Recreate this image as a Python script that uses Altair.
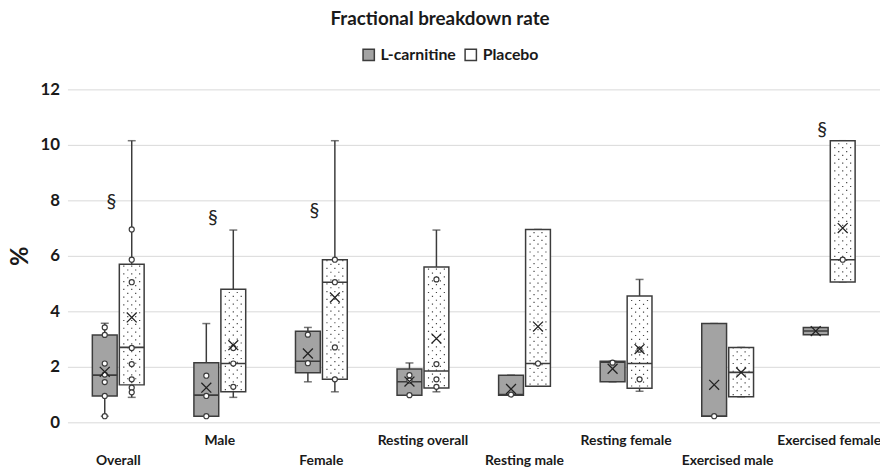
import altair as alt
import pandas as pd

categories = ["Overall", "Male", "Female", "Resting overall", "Resting male",
              "Resting female", "Exercised male", "Exercised female"]
series = ["L-carnitine", "Placebo"]

# L-carnitine box statistics
lc_min    = [0.22, 0.22, 1.46, 0.98, 0.98, 1.46, 0.22, 3.16]
lc_q1     = [0.95, 0.22, 1.79, 0.98, 0.98, 1.46, 0.22, 3.16]
lc_median = [1.70, 0.98, 2.20, 1.46, 1.00, 2.17, 0.22, 3.29]
lc_q3     = [3.15, 2.15, 3.28, 1.92, 1.70, 2.20, 3.56, 3.42]
lc_max    = [3.57, 3.56, 3.42, 2.14, 1.70, 2.20, 3.56, 3.42]
lc_mean   = [1.82, 1.25, 2.48, 1.47, 1.20, 1.93, 1.35, 3.29]

# Placebo box statistics
pl_min    = [0.90, 0.90, 1.10, 1.10, 1.30, 1.12, 0.92, 5.06]
pl_q1     = [1.35, 1.10, 1.55, 1.24, 1.30, 1.23, 0.92, 5.06]
pl_median = [2.70, 2.12, 5.05, 1.85, 2.12, 2.12, 1.80, 5.86]
pl_q3     = [5.70, 4.80, 5.86, 5.60, 6.95, 4.55, 2.70, 10.15]
pl_max    = [10.15, 6.93, 10.15, 6.93, 6.95, 5.15, 2.70, 10.15]
pl_mean   = [3.78, 2.78, 4.50, 3.02, 3.45, 2.64, 1.80, 7.00]

# inner data points
lc_points = [[3.42, 3.15, 2.12, 1.72, 1.45, 0.95, 0.22],
             [1.68, 0.95, 0.22],
             [3.16, 2.13],
             [1.70, 1.50, 0.98],
             [1.00],
             [2.15],
             [0.22],
             []]
pl_points = [[6.95, 5.86, 5.05, 2.68, 2.10, 1.55, 1.25, 1.08],
             [2.68, 2.12, 1.28],
             [5.86, 5.05, 2.70, 1.55],
             [5.15, 2.10, 1.55, 1.28],
             [2.12],
             [2.62, 1.55],
             [],
             [5.86]]

# significance markers
sig_cats = ["Overall", "Male", "Female", "Exercised female"]
sig_y = [7.95, 7.35, 7.6, 10.55]

FONT = "Lato"
DARK = "#3c3c3c"
TXT = "#1a1a1a"

rows = []
for s, mn, q1, md, q3, mx, me in [
        ("L-carnitine", lc_min, lc_q1, lc_median, lc_q3, lc_max, lc_mean),
        ("Placebo", pl_min, pl_q1, pl_median, pl_q3, pl_max, pl_mean)]:
    for i, c in enumerate(categories):
        rows.append(dict(cat=c, series=s, mn=mn[i], q1=q1[i], med=md[i],
                         q3=q3[i], mx=mx[i], mean=me[i]))
boxes = pd.DataFrame(rows)

prow = []
for s, pts in [("L-carnitine", lc_points), ("Placebo", pl_points)]:
    for i, c in enumerate(categories):
        for v in pts[i]:
            prow.append(dict(cat=c, series=s, v=v))
points = pd.DataFrame(prow)

sig = pd.DataFrame(dict(cat=sig_cats, v=sig_y))

xscale = alt.Scale(domain=categories, paddingInner=0.49, paddingOuter=0.245)
xoscale = alt.Scale(domain=series, paddingInner=0.08, paddingOuter=0)
yscale = alt.Scale(domain=[0, 12], nice=False)

label_expr = ("indexof(['Male','Resting overall','Resting female','Exercised female'], datum.label) >= 0"
              " ? datum.label : ['', datum.label]")
xaxis = alt.Axis(title=None, labelAngle=0, ticks=False, domain=False, grid=False,
                 labelFont=FONT, labelFontSize=14, labelFontWeight="bold",
                 labelColor=TXT, labelPadding=11, labelLineHeight=21,
                 labelExpr=label_expr)
yaxis = alt.Axis(values=[0, 2, 4, 6, 8, 10, 12], title="%", titleFont=FONT,
                 titleFontSize=24, titleFontWeight="bold", titleColor=TXT,
                 titlePadding=8, labelFont=FONT, labelFontSize=17,
                 labelFontWeight="bold", labelColor=TXT, ticks=False,
                 domain=False, gridColor="#d9d9d9", gridWidth=1, labelPadding=8)


def X(axis=True):
    return alt.X("cat:N", sort=categories, scale=xscale, axis=xaxis if axis else None)


XO = alt.XOffset("series:N", sort=series, scale=xoscale)

bbase = alt.Chart(boxes)

whisk_hi = bbase.mark_rule(color=DARK, strokeWidth=1.5).encode(
    X(), XO, y=alt.Y("q3:Q", scale=yscale, axis=yaxis), y2="mx")
whisk_lo = bbase.mark_rule(color=DARK, strokeWidth=1.5).encode(
    X(), XO, y=alt.Y("mn:Q"), y2="q1")
cap_hi = bbase.mark_tick(color=DARK, size=8, thickness=1.5).encode(
    X(), XO, y=alt.Y("mx:Q"))
cap_lo = bbase.mark_tick(color=DARK, size=8, thickness=1.5).encode(
    X(), XO, y=alt.Y("mn:Q"))

box = bbase.mark_bar(stroke=DARK, strokeWidth=1.5).encode(
    X(), XO, y=alt.Y("q1:Q"), y2="q3",
    color=alt.Color("series:N", sort=series,
                    scale=alt.Scale(domain=series, range=["#a3a3a3", "#ffffff"]),
                    legend=alt.Legend(title=None, orient="none", direction="horizontal",
                                      legendX=296, legendY=-43, symbolType="square",
                                      symbolSize=130, symbolStrokeColor=DARK,
                                      symbolStrokeWidth=1.5, labelFont=FONT,
                                      labelFontSize=16, labelFontWeight="bold",
                                      labelColor=TXT, columnPadding=6,
                                      labelOffset=4)))

# dotted fill pattern of the placebo boxes (rows of tiny squares, staggered)
dots_base = alt.Chart(boxes[boxes.series == "Placebo"]).transform_calculate(
    idx="sequence(0, floor((datum.q3 - datum.q1 - 0.1) / 0.14) + 1)"
).transform_flatten(["idx"]).transform_calculate(
    yv="datum.q1 + 0.08 + datum.idx * 0.14", parity="datum.idx % 2"
)
row_even = "M-8.6,-0.6h1.2v1.2h-1.2zM-0.6,-0.6h1.2v1.2h-1.2zM7.4,-0.6h1.2v1.2h-1.2z"
row_odd = "M-4.6,-0.6h1.2v1.2h-1.2zM3.4,-0.6h1.2v1.2h-1.2z"
dot_layers = []
for par, shp in [(0, row_even), (1, row_odd)]:
    dot_layers.append(
        dots_base.transform_filter(f"datum.parity == {par}").mark_point(
            shape=shp, size=4, filled=True, color="#444444", opacity=1,
            strokeWidth=0).encode(X(), XO, y=alt.Y("yv:Q")))

median = bbase.mark_rect(fillOpacity=0, stroke=DARK, strokeWidth=1.6).encode(
    X(), XO, y=alt.Y("med:Q"), y2="med")

pts = alt.Chart(points).mark_point(shape="circle", filled=True, fill="white",
                                   stroke=DARK, strokeWidth=1.2, size=26,
                                   opacity=1).encode(X(), XO, y=alt.Y("v:Q"))

means = bbase.mark_point(shape="M-1,-1L1,1M-1,1L1,-1", filled=False,
                         stroke="#222222", strokeWidth=1.3, size=100,
                         opacity=1).encode(X(), XO, y=alt.Y("mean:Q"))

sigm = alt.Chart(sig).mark_text(text="§", font=FONT, fontSize=20, dx=-7,
                                color="#222222").encode(X(), y=alt.Y("v:Q"))

chart = alt.layer(whisk_hi, whisk_lo, cap_hi, cap_lo, box, *dot_layers, median,
                  pts, means, sigm).properties(
    width=820, height=336,
    title=alt.TitleParams("Fractional breakdown rate", font=FONT, fontSize=19,
                          fontWeight="bold", color=TXT, anchor="middle",
                          dx=-34, offset=18),
    autosize=alt.AutoSizeParams(type="none"),
    padding={"left": 60, "top": 80, "right": 0, "bottom": 48},
).configure_view(stroke=None)

chart.save("out.html", embed_options={"renderer": "svg", "actions": False})
